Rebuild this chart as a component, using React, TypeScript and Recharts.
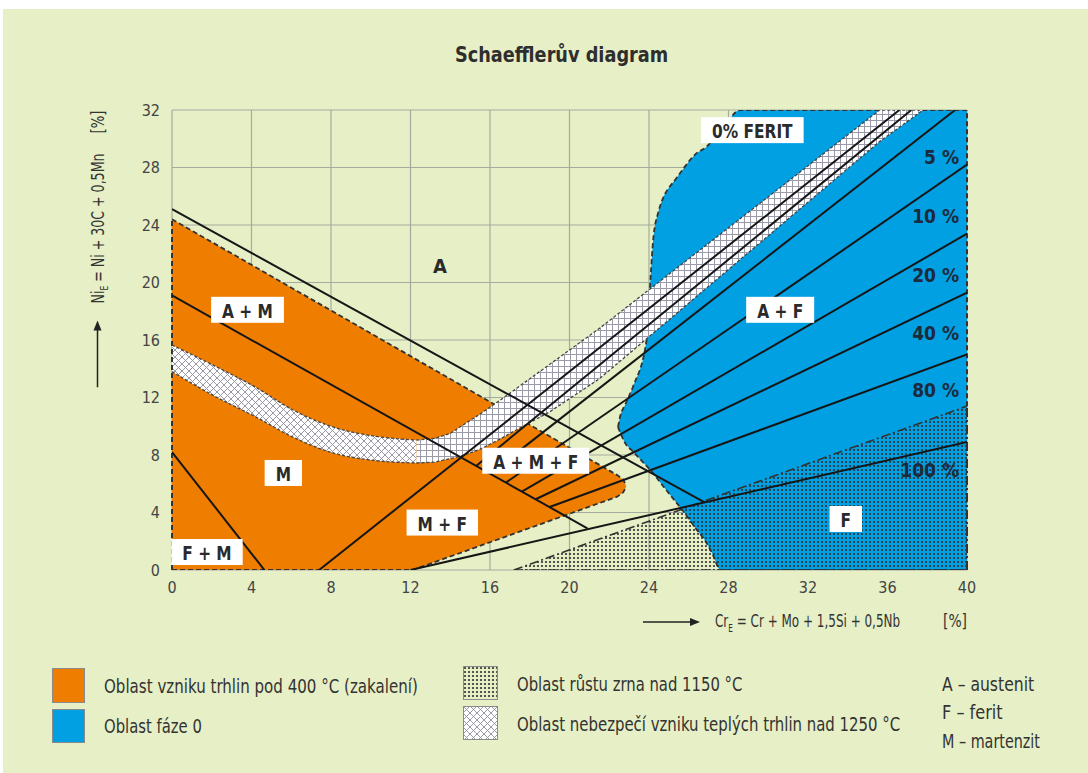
import React, { useLayoutEffect, useRef, useState } from 'react';
import {
  ComposedChart,
  Area,
  Line,
  XAxis,
  YAxis,
  CartesianGrid,
  ReferenceLine,
  ReferenceDot,
} from 'recharts';

const FONT = '"Liberation Sans Narrow", "DejaVu Sans Condensed", "Arial Narrow", Roboto, sans-serif';

const X_TICKS = [0, 4, 8, 12, 16, 20, 24, 28, 32, 36, 40];
const Y_TICKS = [0, 4, 8, 12, 16, 20, 24, 28, 32];

// orange region (cracking below 400 °C), x with lower / upper boundary
const ORANGE_X = [0, 12.1, 22.4, 22.7, 22.85];
const ORANGE_LOW = [0, 0, 5.1, 5.4, 5.8];
const ORANGE_HIGH = [24.4, 14.8, 6.6, 6.3, 5.85];

// blue region (sigma phase)
const BLUE_X = [22.44, 22.54, 22.8, 23.19, 23.9, 24.0, 24.1, 24.2, 24.45, 25.4, 25.56, 26.4, 26.9, 27.2, 27.6, 28.6, 40];
const BLUE_LOW = [9.95, 9.6, 8.83, 8.25, 7.2, 7.05, 6.9, 6.75, 6.3, 4.65, 4.38, 2.8, 1.88, 1.1, 0, 0, 0];
const BLUE_HIGH = [9.95, 10.64, 11.5, 12.73, 16.2, 18.6, 20.8, 22.8, 24.8, 27.3, 27.6, 29.0, 29.45, 29.9, 30.5, 32, 32];

// grain growth region (dotted)
const GRAIN_X = [17.2, 40];
const GRAIN_LOW = [0, 0];
const GRAIN_HIGH = [0, 11.4];

// hot cracking band, curved part and straight part
const BAND_A_X = [0, 2, 4.28, 6, 8.1, 10, 12.3];
const BAND_A_LOW = [13.8, 12.2, 10.6, 9.3, 8.14, 7.65, 7.44];
const BAND_A_HIGH = [15.65, 14.3, 12.66, 11.2, 9.95, 9.35, 9.04];
const BAND_B_X = [12.3, 13.2, 14, 14.5, 15.5, 16.5, 17, 19, 21.5, 35.6, 37.8];
const BAND_B_LOW = [7.44, 7.5, 7.75, 7.9, 8.4, 9.1, 9.5, 11.0, 13.3, 29.8, 32];
const BAND_B_HIGH = [9.04, 9.15, 9.5, 9.96, 10.85, 11.8, 12.3, 14.3, 16.8, 32, 32];

// boundary lines
const LINE_A = [{ x: 0, y: 25.1 }, { x: 26.8, y: 4.7 }];
const LINE_MART = [{ x: 0, y: 19.1 }, { x: 20.9, y: 2.9 }];
const LINE_FM = [{ x: 0, y: 8.2 }, { x: 4.65, y: 0 }];
const LINE_F0 = [{ x: 7.4, y: 0 }, { x: 36.6, y: 32 }];
const LINE_F0B = [{ x: 15.3, y: 7.24 }, { x: 37.2, y: 32 }];
const LINE_F5 = [{ x: 16.0, y: 6.7 }, { x: 39.4, y: 32 }];
const LINE_F10 = [{ x: 16.8, y: 6.08 }, { x: 40, y: 28.2 }];
const LINE_F20 = [{ x: 17.6, y: 5.46 }, { x: 40, y: 23.4 }];
const LINE_F40 = [{ x: 18.3, y: 4.92 }, { x: 40, y: 19.3 }];
const LINE_F80 = [{ x: 19.0, y: 4.38 }, { x: 40, y: 15.0 }];
const LINE_F100 = [{ x: 12.0, y: 0 }, { x: 40, y: 8.9 }];

const SOLID_LINES = [LINE_A, LINE_MART, LINE_FM, LINE_F0, LINE_F0B, LINE_F5, LINE_F10, LINE_F20, LINE_F40, LINE_F80, LINE_F100];

// region labels
const BOX_LABELS = [
  { text: '0% FERIT', x: 29.2, y: 30.6 },
  { text: 'A + M', x: 3.8, y: 18.1 },
  { text: 'M', x: 5.6, y: 6.75 },
  { text: 'F + M', x: 1.76, y: 1.25 },
  { text: 'M + F', x: 13.6, y: 3.3 },
  { text: 'A + M + F', x: 18.3, y: 7.6 },
  { text: 'A + F', x: 30.6, y: 18.1 },
  { text: 'F', x: 33.9, y: 3.55 },
];
const PERCENT_LABELS = [
  { text: '5 %', x: 39.6, y: 28.73 },
  { text: '10 %', x: 39.6, y: 24.63 },
  { text: '20 %', x: 39.6, y: 20.52 },
  { text: '40 %', x: 39.6, y: 16.5 },
  { text: '80 %', x: 39.6, y: 12.52 },
  { text: '100 %', x: 39.6, y: 6.96 },
];

const ORANGE = '#ef7d00';
const BLUE = '#00a0e3';
const BG = '#e6efc5';
const GRID = '#a4ab9f';
const INK = '#333';

const rangeData = (xs: number[], lo: number[], hi: number[]) =>
  xs.map((x, i) => ({ x, range: [lo[i], hi[i]] }));

let measureCtx: CanvasRenderingContext2D | null = null;
function textWidth(text: string, font: string) {
  if (!measureCtx) measureCtx = document.createElement('canvas').getContext('2d');
  if (!measureCtx) return text.length * 10;
  measureCtx.font = font;
  return measureCtx.measureText(text).width;
}

function BoxLabel({ cx, cy, text }: any) {
  const font = `bold 19px ${FONT}`;
  const w = textWidth(text, font) * 0.9 + 22;
  return (
    <g>
      <rect x={cx - w / 2} y={cy - 13} width={w} height={26} fill="#fff" />
      <text
        x={cx}
        y={cy + 1}
        textAnchor="middle"
        dominantBaseline="central"
        style={{ font }}
        fill="#2a2a2a"
        textLength={w - 22}
        lengthAdjust="spacingAndGlyphs"
      >
        {text}
      </text>
    </g>
  );
}

function PercentLabel({ cx, cy, text }: any) {
  return (
    <text x={cx} y={cy} textAnchor="end" dominantBaseline="central" style={{ font: `bold 19px ${FONT}` }} fill="#1c2a3c">
      {text}
    </text>
  );
}

// html text squeezed to the width it has in the picture
function FitText({ left, top, width, size, bold, color = '#333', children }: any) {
  const ref = useRef<HTMLSpanElement>(null);
  const [scale, setScale] = useState(1);
  useLayoutEffect(() => {
    if (ref.current && ref.current.offsetWidth) setScale(width / ref.current.offsetWidth);
  }, [width]);
  return (
    <div style={{ position: 'absolute', left, top, whiteSpace: 'nowrap', lineHeight: `${size + 4}px` }}>
      <span
        ref={ref}
        style={{
          display: 'inline-block',
          fontFamily: FONT,
          fontSize: size,
          fontWeight: bold ? 'bold' : 'normal',
          color,
          transform: `scaleX(${scale})`,
          transformOrigin: 'left center',
        }}
      >
        {children}
      </span>
    </div>
  );
}

function Patterns({ prefix }: { prefix: string }) {
  return (
    <defs>
      <pattern id={`${prefix}dots`} patternUnits="userSpaceOnUse" width={4} height={4}>
        <circle cx={2} cy={2} r={1.1} fill="#2e2e2e" />
      </pattern>
      <pattern id={`${prefix}diag`} patternUnits="userSpaceOnUse" width={7} height={7}>
        <rect width={7} height={7} fill="#fff" />
        <path d="M0,0 L7,7 M7,0 L0,7" stroke="#8e8f9c" strokeWidth={0.9} />
      </pattern>
      <pattern id={`${prefix}grid`} patternUnits="userSpaceOnUse" width={6} height={6}>
        <rect width={6} height={6} fill="#fff" />
        <path d="M0,0.5 H6 M0.5,0 V6" stroke="#9a9aa8" strokeWidth={1} />
      </pattern>
    </defs>
  );
}

function Swatch({ left, top, w, h, fill, pattern }: any) {
  const pid = `sw${pattern || 'x'}`;
  return (
    <svg width={w} height={h} style={{ position: 'absolute', left, top }}>
      {pattern && <Patterns prefix={pid} />}
      <rect x={0.5} y={0.5} width={w - 1} height={h - 1} fill={pattern ? `url(#${pid}${pattern})` : fill} stroke="#8a8a8a" />
    </svg>
  );
}

export default function App() {
  return (
    <div style={{ position: 'absolute', left: 0, top: 0, width: 1088, height: 773, background: '#fff', overflow: 'hidden' }}>
      <div style={{ position: 'absolute', left: 3, top: 9, width: 1085, height: 764, background: BG }} />

      <FitText left={455} top={42} width={213} size={22} bold color="#2e2e2e">
        Schaefflerův diagram
      </FitText>

      <div style={{ position: 'absolute', left: 0, top: 0 }}>
        <ComposedChart width={1088} height={640} margin={{ top: 110, right: 121, bottom: 40, left: 112 }}>
          <Patterns prefix="c" />
          <XAxis
            type="number"
            dataKey="x"
            domain={[0, 40]}
            ticks={X_TICKS}
            allowDataOverflow
            axisLine={false}
            tickLine={false}
            tickSize={0}
            tickMargin={12}
            height={30}
            tick={{ fill: '#444', fontSize: 16, fontFamily: FONT }}
          />
          <YAxis
            type="number"
            domain={[0, 32]}
            ticks={Y_TICKS}
            allowDataOverflow
            axisLine={false}
            tickLine={false}
            tickSize={0}
            tickMargin={12}
            width={60}
            tick={{ fill: '#444', fontSize: 16, fontFamily: FONT }}
          />

          <Area
            data={rangeData(ORANGE_X, ORANGE_LOW, ORANGE_HIGH)}
            dataKey="range"
            type="linear"
            fill={ORANGE}
            fillOpacity={1}
            stroke={INK}
            strokeWidth={1.8}
            strokeDasharray="5 3"
            dot={false}
            activeDot={false}
            isAnimationActive={false}
          />
          <Area
            data={rangeData(BLUE_X, BLUE_LOW, BLUE_HIGH)}
            dataKey="range"
            type="monotone"
            fill={BLUE}
            fillOpacity={1}
            stroke={INK}
            strokeWidth={1.8}
            strokeDasharray="5 3"
            dot={false}
            activeDot={false}
            isAnimationActive={false}
          />

          <CartesianGrid stroke={GRID} strokeWidth={1.2} />

          <Area
            data={rangeData(GRAIN_X, GRAIN_LOW, GRAIN_HIGH)}
            dataKey="range"
            type="linear"
            fill="url(#cdots)"
            fillOpacity={1}
            stroke={INK}
            strokeWidth={1.6}
            strokeDasharray="9 3 2 3"
            dot={false}
            activeDot={false}
            isAnimationActive={false}
          />
          <Area
            data={rangeData(BAND_A_X, BAND_A_LOW, BAND_A_HIGH)}
            dataKey="range"
            type="monotone"
            fill="url(#cdiag)"
            fillOpacity={1}
            stroke="#444"
            strokeWidth={1.3}
            strokeDasharray="3 2"
            dot={false}
            activeDot={false}
            isAnimationActive={false}
          />
          <Area
            data={rangeData(BAND_B_X, BAND_B_LOW, BAND_B_HIGH)}
            dataKey="range"
            type="linear"
            fill="url(#cgrid)"
            fillOpacity={1}
            stroke="#444"
            strokeWidth={1.3}
            strokeDasharray="3 2"
            dot={false}
            activeDot={false}
            isAnimationActive={false}
          />

          <ReferenceLine segment={[{ x: 0, y: 0 }, { x: 0, y: 24.4 }]} stroke={INK} strokeWidth={2} strokeDasharray="5 3" />
          <ReferenceLine segment={[{ x: 40, y: 11.4 }, { x: 40, y: 32 }]} stroke={INK} strokeWidth={2} strokeDasharray="5 3" />
          <ReferenceLine segment={[{ x: 40, y: 0 }, { x: 40, y: 11.4 }]} stroke={INK} strokeWidth={2} strokeDasharray="9 3 2 3" />

          {SOLID_LINES.map((pts, i) => (
            <Line
              key={i}
              data={pts}
              dataKey="y"
              type="linear"
              stroke="#161616"
              strokeWidth={2}
              dot={false}
              activeDot={false}
              isAnimationActive={false}
            />
          ))}

          {BOX_LABELS.map((l) => (
            <ReferenceDot
              key={l.text}
              x={l.x}
              y={l.y}
              r={0}
              shape={(p: any) => <BoxLabel cx={p.cx} cy={p.cy} text={l.text} />}
            />
          ))}
          <ReferenceDot
            x={13.48}
            y={21.15}
            r={0}
            shape={(p: any) => (
              <text x={p.cx} y={p.cy} textAnchor="middle" dominantBaseline="central" style={{ font: `bold 20px ${FONT}` }} fill="#2a2a2a">
                A
              </text>
            )}
          />
          {PERCENT_LABELS.map((l) => (
            <ReferenceDot
              key={l.text}
              x={l.x}
              y={l.y}
              r={0}
              shape={(p: any) => <PercentLabel cx={p.cx} cy={p.cy} text={l.text} />}
            />
          ))}
        </ComposedChart>
      </div>

      {/* y axis title */}
      <div
        style={{
          position: 'absolute',
          left: 97 - 277 / 2,
          top: 248.5 - 12,
          width: 277,
          height: 24,
          transform: 'rotate(-90deg)',
          transformOrigin: 'center',
        }}
      >
        <div style={{ position: 'absolute', left: 0, top: 7 }}>
          <svg width={67} height={10} style={{ display: 'block' }}>
            <line x1={0} y1={5} x2={60} y2={5} stroke="#222" strokeWidth={1.5} />
            <polygon points="67,5 57,1 57,9" fill="#222" />
          </svg>
        </div>
        <FitText left={84} top={1} width={150} size={18}>
          Ni<sub style={{ fontSize: 11 }}>E</sub> = Ni + 30C + 0,5Mn
        </FitText>
        <FitText left={254} top={1} width={23} size={18}>
          [%]
        </FitText>
      </div>

      {/* x axis title */}
      <div style={{ position: 'absolute', left: 643, top: 617 }}>
        <svg width={57} height={10} style={{ display: 'block' }}>
          <line x1={0} y1={5} x2={50} y2={5} stroke="#222" strokeWidth={1.5} />
          <polygon points="57,5 47,1 47,9" fill="#222" />
        </svg>
      </div>
      <FitText left={715} top={610} width={185} size={18}>
        Cr<sub style={{ fontSize: 11 }}>E</sub> = Cr + Mo + 1,5Si + 0,5Nb
      </FitText>
      <FitText left={943} top={610} width={24} size={18}>
        [%]
      </FitText>

      {/* legend */}
      <Swatch left={52} top={668} w={33} h={35} fill={ORANGE} />
      <Swatch left={52} top={709} w={33} h={34} fill={BLUE} />
      <Swatch left={463} top={666} w={35} h={34} pattern="dots" />
      <Swatch left={463} top={706} w={35} h={34} pattern="diag" />
      <FitText left={104} top={674} width={314} size={20}>Oblast vzniku trhlin pod 400 °C (zakalení)</FitText>
      <FitText left={104} top={714} width={98} size={20}>Oblast fáze 0</FitText>
      <FitText left={517} top={672} width={225} size={20}>Oblast růstu zrna nad 1150 °C</FitText>
      <FitText left={517} top={712} width={383} size={20}>Oblast nebezpečí vzniku teplých trhlin nad 1250 °C</FitText>
      <FitText left={942} top={672} width={92} size={20}>A – austenit</FitText>
      <FitText left={942} top={700} width={61} size={20}>F – ferit</FitText>
      <FitText left={942} top={729} width={98} size={20}>M – martenzit</FitText>
    </div>
  );
}
